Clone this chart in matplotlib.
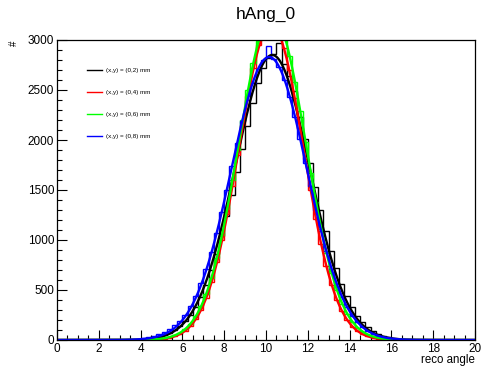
import numpy as np
import matplotlib
matplotlib.use("Agg")
import matplotlib.pyplot as plt
from matplotlib.lines import Line2D

plt.rcParams['font.family'] = ['Liberation Sans', 'DejaVu Sans']

# histogram binning (reco angle), 0.25 wide bins from 4 to 16
bin_lo = 4.0
bin_width = 0.25

labels = ["(x,y) = (0,2) mm", "(x,y) = (0,4) mm", "(x,y) = (0,6) mm", "(x,y) = (0,8) mm"]
colors = ["black", "red", "#00ff00", "blue"]

# bin contents
h_02 = [10, 15, 22, 34, 50, 72, 100, 140, 190, 255, 335, 435, 555, 700, 865, 1040,
        1240, 1450, 1680, 1910, 2140, 2370, 2570, 2720, 2820, 2860, 2970, 2760, 2640, 2490,
        2230, 2010, 1770, 1530, 1300, 1090, 890, 720, 565, 440, 330, 245, 178, 128,
        90, 62, 42, 28]
h_04 = [2, 3, 5, 9, 15, 25, 40, 62, 95, 145, 215, 300, 425, 580, 780, 1000,
        1260, 1540, 1850, 2150, 2440, 2720, 2950, 3100, 3150, 3150, 3080, 2920, 2700, 2420,
        2120, 1810, 1500, 1210, 960, 740, 555, 405, 290, 200, 135, 88, 57, 36,
        22, 13, 8, 4]
h_06 = [3, 4, 7, 11, 18, 30, 48, 75, 112, 165, 240, 340, 465, 625, 820, 1050,
        1310, 1600, 1900, 2200, 2500, 2770, 2990, 3150, 3240, 3250, 3190, 3050, 2840, 2580,
        2290, 1980, 1670, 1380, 1110, 870, 670, 500, 365, 262, 182, 124, 82, 53,
        33, 20, 12, 7]
h_08 = [18, 28, 42, 60, 82, 112, 148, 195, 255, 340, 445, 570, 715, 885, 1075, 1285,
        1505, 1740, 1970, 2195, 2400, 2575, 2710, 2800, 2940, 2810, 2730, 2600, 2430, 2230,
        2010, 1775, 1540, 1305, 1090, 890, 715, 560, 432, 328, 243, 177, 127, 89,
        61, 41, 27, 17]
hists = [h_02, h_04, h_06, h_08]

# gaus fit parameters (constant, mean, sigma)
fit_const = [2850, 3150, 3250, 2830]
fit_mean = [10.3, 10.25, 10.3, 10.15]
fit_sigma = [1.78, 1.55, 1.6, 1.8]

fig = plt.figure(figsize=(4.83, 3.66), dpi=100)
ax = fig.add_axes([57 / 483, 26 / 366, 418 / 483, 300 / 366])

edges = bin_lo + bin_width * np.arange(len(h_02) + 1)
xs = np.linspace(0, 20, 801)
handles = []
for i in range(4):
    ax.stairs(hists[i], edges, color=colors[i], lw=1.0, baseline=None)
for i in range(4):
    fit = fit_const[i] * np.exp(-0.5 * ((xs - fit_mean[i]) / fit_sigma[i]) ** 2)
    ax.plot(xs, fit, color=colors[i], lw=1.7)
    handles.append(Line2D([], [], color=colors[i], lw=1.0))

ax.set_xlim(0, 20)
ax.set_ylim(0, 3000)
ax.set_xticks(np.arange(0, 21, 2))
ax.set_xticks(np.arange(0, 20.1, 0.5), minor=True)
ax.set_yticks(np.arange(0, 3001, 500))
ax.set_yticks(np.arange(0, 3001, 100), minor=True)
ax.tick_params(direction='in', which='major', length=7, width=0.8, labelsize=8.5, pad=2,
               top=False, right=False)
ax.tick_params(direction='in', which='minor', length=3.5, width=0.8, top=False, right=False)
for s in ax.spines.values():
    s.set_linewidth(0.9)

ax.set_xlabel("reco angle", fontsize=8.3, ha='right', va='bottom')
ax.xaxis.set_label_coords(1.0, -0.085)
ax.set_ylabel("#", fontsize=7, rotation=90, ha='center', va='top')
ax.yaxis.set_label_coords(-0.115, 0.99)
ax.set_title("hAng_0", fontsize=12.5, pad=15)

ax.legend(handles, labels, loc='upper left', bbox_to_anchor=(0.065, 0.917), frameon=False,
          fontsize=4.5, handlelength=2.4, labelspacing=2.65, borderpad=0, handletextpad=0.6)

fig.savefig("out.png", dpi=100)
